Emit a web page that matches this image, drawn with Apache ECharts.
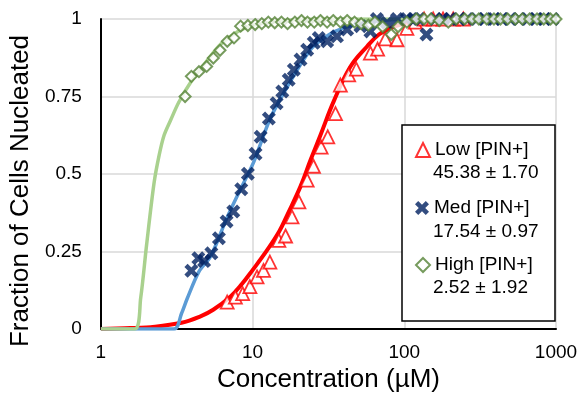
<!DOCTYPE html>
<html><head><meta charset="utf-8">
<script src="https://cdn.jsdelivr.net/npm/echarts@6/dist/echarts.min.js"></script>
<style>html,body{margin:0;padding:0;background:#fff}#c{width:582px;height:400px}</style>
</head><body><div id="c"></div>
<script>
// ---- data ----
const yTickLabels = ['0', '0.25', '0.5', '0.75', '1'];
const xTickLabels = ['1', '10', '100', '1000'];
const seriesNames = ['Low [PIN+]', 'Med [PIN+]', 'High [PIN+]'];
const ec50Labels = ['45.38 ± 1.70', '17.54 ± 0.97', '2.52 ± 1.92'];

// Low [PIN+] measured points
const lowConc = [6.8, 7.7, 8.6, 9.6, 10.7, 11.8, 13.0, 14.9, 16.5, 18.2, 20.2, 22.9, 25.2, 28.3, 31.3, 35.2, 37.9, 43, 48.3, 59.8, 66.7, 75, 89.5, 104, 118, 135, 155, 180, 210, 245];
const lowFrac = [0.087, 0.103, 0.114, 0.137, 0.168, 0.189, 0.216, 0.286, 0.30, 0.362, 0.41, 0.48, 0.525, 0.587, 0.62, 0.695, 0.787, 0.82, 0.838, 0.89, 0.903, 0.936, 0.933, 0.97, 0.99, 1, 1, 1, 1, 1];
// Med [PIN+] measured points
const medConc = [3.95, 4.39, 4.79, 5.35, 6.0, 6.74, 7.46, 8.42, 9.31, 10.46, 11.3, 12.8, 14.4, 15.7, 17.3, 18.7, 20.7, 22.9, 25.3, 27.3, 31, 36, 42, 51.4, 59.8, 66, 77, 89.5, 104, 115, 125, 140, 160, 180, 200, 230, 260, 300, 340, 390, 440, 500, 570, 650, 740, 840, 950];
const medFrac = [0.188, 0.228, 0.219, 0.244, 0.293, 0.347, 0.379, 0.451, 0.501, 0.565, 0.62, 0.679, 0.728, 0.766, 0.804, 0.836, 0.869, 0.901, 0.923, 0.939, 0.928, 0.944, 0.966, 0.977, 0.96, 1.0, 0.988, 1.0, 1.0, 1.0, 1.0, 0.95, 1, 1, 1, 1, 1, 1, 1, 1, 1, 1, 1, 1, 1, 1, 1];
// High [PIN+] measured points
const highConc = [3.59, 3.95, 4.43, 4.98, 5.51, 6.1, 6.81, 7.54, 8.34, 9.31, 10.4, 11.5, 12.7, 14, 15.5, 17, 19, 21, 23, 25.5, 28, 31, 34, 38, 42, 47, 52, 58, 64, 72, 82, 91, 104, 120, 135, 150, 170, 195, 220, 250, 280, 310, 350, 390, 430, 480, 540, 600, 670, 750, 830, 920, 1000];
const highFrac = [0.75, 0.815, 0.83, 0.847, 0.874, 0.899, 0.928, 0.939, 0.977, 0.979, 0.982, 0.985, 0.99, 0.988, 0.99, 0.985, 0.99, 0.995, 0.99, 0.99, 0.995, 0.99, 0.995, 0.99, 0.995, 0.99, 0.985, 0.98, 0.99, 0.975, 0.95, 0.975, 0.99, 1, 1, 1, 0.995, 0.99, 1, 1, 1, 1, 1, 1, 1, 1, 1, 1, 1, 1, 1, 1, 1];

// fitted curves
const lowFitConc = [1, 1.7, 2.13, 3.4, 4.5, 5.5, 7.16, 8.5, 10, 12.5, 15, 17, 20.7, 24.1, 28, 34.3, 44, 57, 68, 81, 100, 130, 200, 1000];
const lowFitFrac = [0, 0.004, 0.006, 0.02, 0.04, 0.062, 0.105, 0.145, 0.19, 0.255, 0.315, 0.37, 0.46, 0.545, 0.625, 0.735, 0.845, 0.912, 0.95, 0.97, 0.985, 0.995, 1, 1];
const medFitConc = [1, 3.04, 3.4, 3.72, 4.43, 5.3, 6.8, 8.5, 10.2, 13.1, 17.8, 24, 28, 35, 50, 70, 100, 1000];
const medFitFrac = [0, 0, 0.05, 0.1, 0.185, 0.235, 0.36, 0.46, 0.54, 0.68, 0.8, 0.9, 0.93, 0.96, 0.985, 0.995, 1, 1];
const highFitConc = [1, 1.67, 1.83, 2.0, 2.24, 2.42, 2.61, 2.89, 3.25, 3.9, 5.0, 6.2, 8, 10, 15, 25, 1000];
const highFitFrac = [0, 0, 0.1, 0.27, 0.47, 0.56, 0.625, 0.675, 0.73, 0.795, 0.865, 0.92, 0.96, 0.98, 0.993, 1, 1];

// ---- chart ----
const FONT = '"Liberation Sans", Arial, sans-serif';
const zip = (a, b) => a.map((v, i) => [v, b[i]]);
const XPATH = 'path://M0,2.3 L2.3,0 L5,2.7 L7.7,0 L10,2.3 L7.3,5 L10,7.7 L7.7,10 L5,7.3 L2.3,10 L0,7.7 L2.7,5 Z';
const RED = '#FF0000', NAVY = '#002060', LBLUE = '#5B9BD5', LGREEN = '#A9D18E', DGREEN = '#548235';

const chart = echarts.init(document.getElementById('c'), null, {renderer: 'canvas'});
const legendTops = [139, 197, 254];
const valueYs = [173, 232, 288];
const option = {
  animation: false,
  backgroundColor: '#fff',
  grid: {left: 100, right: 26, top: 19, bottom: 71, containLabel: false},
  xAxis: {
    type: 'log', logBase: 10, min: 1, max: 1000,
    name: 'Concentration (µM)', nameLocation: 'middle', nameGap: 36,
    nameTextStyle: {fontSize: 26, color: '#000', fontFamily: FONT},
    axisLine: {lineStyle: {color: '#000', width: 2}},
    axisTick: {show: false},
    axisLabel: {fontSize: 19, color: '#000', fontFamily: FONT, margin: 14,
      formatter: v => xTickLabels[Math.round(Math.log10(v))]},
    splitLine: {show: true, lineStyle: {color: '#D9D9D9', width: 1.5}},
    minorTick: {show: false}
  },
  yAxis: {
    type: 'value', min: 0, max: 1, interval: 0.25,
    name: 'Fraction of Cells Nucleated', nameLocation: 'middle', nameGap: 58, nameRotate: 90,
    nameTextStyle: {fontSize: 26, color: '#000', fontFamily: FONT, padding: [0, 34, 0, 0]},
    axisLine: {show: true, lineStyle: {color: '#000', width: 2}},
    axisTick: {show: false},
    axisLabel: {fontSize: 19, color: '#000', fontFamily: FONT, margin: 19,
      formatter: v => yTickLabels[Math.round(v * 4)]},
    splitLine: {show: true, lineStyle: {color: '#D9D9D9', width: 1.5}}
  },
  legend: seriesNames.map((n, i) => ({
    data: [n], orient: 'vertical', left: 415, top: legendTops[i], padding: 0,
    itemWidth: 14, itemHeight: 14, itemGap: 0, z: 10,
    textStyle: {fontSize: 19, color: '#000', fontFamily: FONT, lineHeight: 22}
  })),
  graphic: [
    {type: 'rect', z: 3, shape: {x: 402, y: 125, width: 153, height: 196},
      style: {fill: '#fff', stroke: '#000', lineWidth: 1.5}},
    ...ec50Labels.map((t, i) => ({
      type: 'text', z: 10, x: 433, y: valueYs[i],
      style: {text: t, fontSize: 19, fontFamily: FONT, fill: '#000', verticalAlign: 'middle', align: 'left'}
    }))
  ],
  series: [
    {type: 'line', name: 'lowFit', data: zip(lowFitConc, lowFitFrac), smooth: 0.4, showSymbol: false, symbol: 'none',
      lineStyle: {color: RED, width: 4}, z: 2},
    {type: 'line', name: 'medFit', data: zip(medFitConc, medFitFrac), smooth: 0.3, showSymbol: false, symbol: 'none',
      lineStyle: {color: LBLUE, width: 3.5}, z: 2},
    {type: 'line', name: 'highFit', data: zip(highFitConc, highFitFrac), smooth: 0.3, showSymbol: false, symbol: 'none',
      lineStyle: {color: LGREEN, width: 3.5}, z: 2},
    {type: 'scatter', name: seriesNames[0], data: zip(lowConc, lowFrac), symbol: 'triangle', symbolSize: 13,
      itemStyle: {color: '#fff', borderColor: RED, borderWidth: 1.8}, z: 3},
    {type: 'scatter', name: seriesNames[1], data: zip(medConc, medFrac), symbol: XPATH, symbolSize: 14,
      itemStyle: {color: NAVY}, z: 4},
    {type: 'scatter', name: seriesNames[2], data: zip(highConc, highFrac), symbol: 'diamond', symbolSize: 11,
      itemStyle: {color: '#fff', borderColor: DGREEN, borderWidth: 2}, z: 5}
  ]
};
chart.setOption(option);
</script>
</body></html>
